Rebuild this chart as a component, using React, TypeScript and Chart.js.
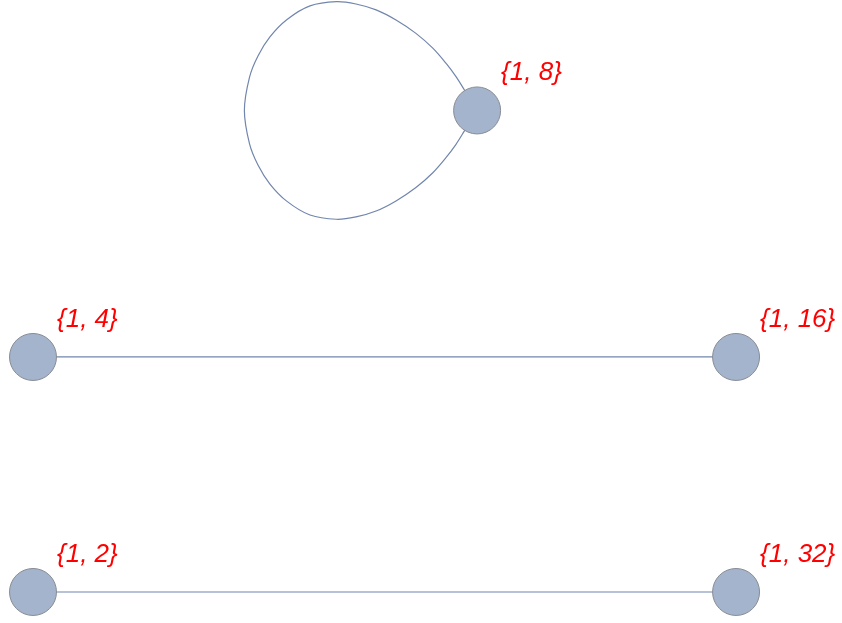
import React, { useEffect, useRef } from "react";
import { Chart, registerables } from "chart.js";

Chart.register(...registerables);

// Vertices (graph layout units)
const vertexLabels = ["{1, 8}", "{1, 4}", "{1, 16}", "{1, 2}", "{1, 32}"];
const vertexX = [1.895, 0, 3, 0, 3];
const vertexY = [2.049, 1, 1, 0, 0];

// Edges as pairs of vertex indices
const edgeFrom = [1, 3];
const edgeTo = [2, 4];

// Self loop on vertex 0
const loopX = [
  1.895, 1.841, 1.805, 1.762, 1.706, 1.634, 1.549, 1.464, 1.378, 1.295, 1.182, 1.084, 1.011, 0.96, 0.924, 0.902,
  0.924, 0.96, 1.011, 1.084, 1.182, 1.295, 1.378, 1.464, 1.549, 1.634, 1.706, 1.762, 1.805, 1.841, 1.895,
];
const loopY = [
  2.049, 2.136, 2.193, 2.25, 2.314, 2.377, 2.434, 2.477, 2.502, 2.512, 2.494, 2.436, 2.362, 2.281, 2.191, 2.049,
  1.907, 1.817, 1.736, 1.662, 1.604, 1.586, 1.596, 1.621, 1.664, 1.721, 1.784, 1.848, 1.905, 1.962, 2.049,
];

const X_MIN = -0.1408;
const X_MAX = 3.452;
const Y_MIN = -0.132;
const Y_MAX = 2.519;

const EDGE_COLOR = "#7186ad";
const VERTEX_FILL = "#a3b4cc";
const VERTEX_BORDER = "#888c94";

const labelPlugin = {
  id: "vertexLabels",
  afterDatasetsDraw(chart: any) {
    const { ctx, scales } = chart;
    ctx.save();
    ctx.fillStyle = "#ff0000";
    ctx.font = "italic 26px 'Liberation Sans', Arial, sans-serif";
    ctx.textAlign = "left";
    ctx.textBaseline = "middle";
    vertexLabels.forEach((lab, i) => {
      const px = scales.x.getPixelForValue(vertexX[i]);
      const py = scales.y.getPixelForValue(vertexY[i]);
      ctx.fillText(lab, px + 24, py - 37.5);
    });
    ctx.restore();
  },
};

export default function App() {
  const ref = useRef<HTMLCanvasElement | null>(null);
  useEffect(() => {
    if (!ref.current) return;
    const edgeDatasets = edgeFrom.map((f, k) => ({
      type: "line" as const,
      data: [
        { x: vertexX[f], y: vertexY[f] },
        { x: vertexX[edgeTo[k]], y: vertexY[edgeTo[k]] },
      ],
      borderColor: EDGE_COLOR,
      borderWidth: 1.2,
      pointRadius: 0,
      showLine: true,
      fill: false,
      order: 2,
    }));
    const loopDataset = {
      type: "line" as const,
      data: loopX.map((x, i) => ({ x, y: loopY[i] })),
      borderColor: EDGE_COLOR,
      borderWidth: 1.2,
      pointRadius: 0,
      tension: 0.33,
      capBezierPoints: false,
      showLine: true,
      fill: false,
      order: 2,
    };
    const vertexDataset = {
      type: "scatter" as const,
      data: vertexX.map((x, i) => ({ x, y: vertexY[i] })),
      backgroundColor: VERTEX_FILL,
      borderColor: VERTEX_BORDER,
      borderWidth: 1,
      pointRadius: 23.5,
      pointHoverRadius: 23.5,
      order: 1,
    };
    const chart = new Chart(ref.current, {
      type: "scatter",
      data: { datasets: [...edgeDatasets, loopDataset, vertexDataset] as any },
      options: {
        animation: false,
        responsive: false,
        maintainAspectRatio: false,
        layout: { padding: 0, autoPadding: false },
        plugins: { legend: { display: false }, tooltip: { enabled: false } },
        scales: {
          x: { type: "linear", min: X_MIN, max: X_MAX, display: false },
          y: { type: "linear", min: Y_MIN, max: Y_MAX, display: false },
        },
      },
      plugins: [labelPlugin],
    });
    return () => chart.destroy();
  }, []);
  return (
    <div style={{ position: "fixed", left: 0, top: 0, width: 842, height: 623, background: "#fff" }}>
      <canvas ref={ref} width={842} height={623} style={{ display: "block" }} />
    </div>
  );
}
